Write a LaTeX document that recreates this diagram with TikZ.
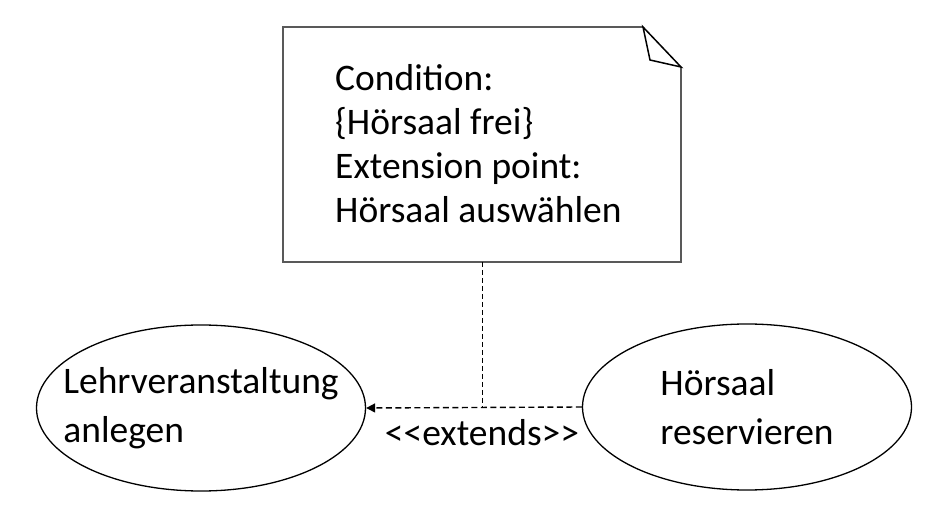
\documentclass[tikz,border=0pt]{standalone}
\usepackage{fontspec}
\setmainfont{Carlito}
\usetikzlibrary{shapes.geometric,arrows.meta}

\tikzset{
  usecase/.style={draw, line width=1.3pt, ellipse, inner xsep=-50pt, inner ysep=-20pt, align=left,
    minimum width=329pt, minimum height=166pt, font=\fontsize{37.5}{49}\selectfont},
  dep/.style={line width=1.4pt, dash pattern=on 6pt off 3.5pt},
}

\begin{document}
\begin{tikzpicture}[x=1pt, y=1pt, every node/.style={font=\fontsize{37.5}{44}\selectfont}]
      \useasboundingbox (0,0) rectangle (941,508);
      % note with folded corner
      \draw[line width=1.5pt, black!65] (643,481) -- (283,481) -- (283,246) -- (681,246) -- (681,441);
      \draw[line width=1.5pt] (643,481) -- (650,448) -- (681,441) -- cycle;
      \node[anchor=base west, align=left, inner sep=0pt] (cond) at (335,285)
        {Condition:\\\{Hörsaal frei\}\\Extension point:\\Hörsaal auswählen};
      \coordinate (notefoot) at (482,246);
      % use cases
      \node[usecase] (lva) at (201,100) {Lehrveranstaltung\\anlegen};
      \node[usecase] (hs) at (747,101) {Hörsaal\\reservieren};
      \coordinate (joint) at (482,100);
      \draw[dep, -{Triangle[length=9pt, width=9pt]}] (hs.west) -- (lva.east);
      \draw[line width=1pt, dash pattern=on 5pt off 3pt] (notefoot) -- (joint);
      \node[anchor=base] (ext) at (482,62) {<{}<extends>{}>};
\end{tikzpicture}
\end{document}
